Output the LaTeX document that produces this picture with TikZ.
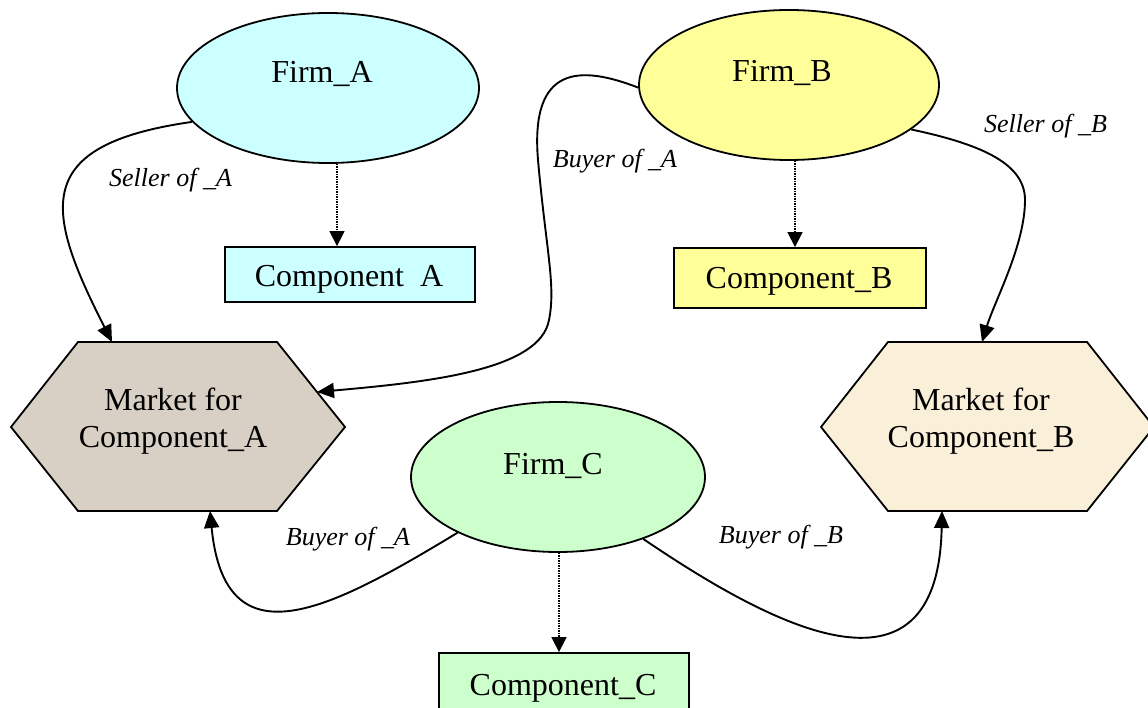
\documentclass[tikz,border=0pt]{standalone}
\usepackage{fontspec}
\setmainfont{Liberation Serif}
\usetikzlibrary{arrows.meta,shapes.geometric,calc}
\definecolor{firmA}{HTML}{CCFFFF}
\definecolor{firmB}{HTML}{FFFF99}
\definecolor{firmC}{HTML}{CCFFCC}
\definecolor{mktA}{RGB}{216,208,196}
\definecolor{mktB}{RGB}{250,240,218}

\begin{document}
\begin{tikzpicture}[x=1pt,y=-1pt,
  firm/.style={ellipse, draw, line width=1.8pt, minimum height=150pt, inner sep=0pt},
  comp/.style={rectangle, draw, line width=1.8pt, inner sep=0pt},
  txt/.style={font=\fontsize{32}{38}\selectfont, anchor=base, inner sep=0pt},
  role/.style={font=\fontsize{26}{30}\selectfont\itshape, anchor=base, inner sep=0pt},
  link/.style={line width=1.9pt, -{Triangle[length=17pt,width=15pt]}},
  owns/.style={line width=1.5pt, densely dotted, -{Triangle[length=15pt,width=15pt]}},
  market/.style={draw, line width=1.8pt, line join=miter}
]
\useasboundingbox (0,0) rectangle (1148,708);
\fill[white] (0,0) rectangle (1148,708);
\clip (0,0) rectangle (1148,708);

% markets (hexagons)
\draw[market, fill=mktA] (11,427) -- (78,342) -- (277,342) -- (345,427) -- (277,511) -- (78,511) -- cycle;
\draw[market, fill=mktB] (821,427) -- (888,342) -- (1087,342) -- (1154,427) -- (1087,511) -- (888,511) -- cycle;
\node[txt] (mAt1) at (173,410) {Market for};
\node[txt] (mAt2) at (173,447) {Component\_A};
\node[txt] (mBt1) at (981,410) {Market for};
\node[txt] (mBt2) at (981,447) {Component\_B};
\coordinate (mAtop)  at (112,342);
\coordinate (mAside) at (317,392);
\coordinate (mAbot)  at (210,511);
\coordinate (mBtop)  at (982,342);
\coordinate (mBbot)  at (942,511);

% firms
\node[firm, fill=firmA, minimum width=302pt] (fA) at (328,88) {};
\node[firm, fill=firmB, minimum width=300pt] (fB) at (789,85) {};
\node[firm, fill=firmC, minimum width=294pt] (fC) at (558,477) {};
\node[txt] (fAt) at (322,83) {Firm\_A};
\node[txt] (fBt) at (782,82) {Firm\_B};
\node[txt] (fCt) at (553,474) {Firm\_C};

% components
\node[comp, fill=firmA, minimum width=250pt, minimum height=55pt] (cA) at (350,274.5) {};
\node[comp, fill=firmB, minimum width=252pt, minimum height=60pt] (cB) at (800,278) {};
\node[comp, fill=firmC, minimum width=250pt, minimum height=62pt] (cC) at (564,684) {};
\node[txt] (cAt) at (349,287) {Component\ \ A};
\node[txt] (cBt) at (799,289) {Component\_B};
\node[txt] (cCt) at (563,695) {Component\_C};

% firm -> own component
\coordinate (oA) at (337,0);
\coordinate (oB) at (795,0);
\coordinate (oC) at (559,0);
\draw[owns] (fA.south -| oA) -- (cA.north -| oA);
\draw[owns] (fB.south -| oB) -- (cB.north -| oB);
\draw[owns] (fC.south -| oC) -- (cC.north -| oC);

% market roles
\draw[link] (fA.194) .. controls (30,145) and (45,210) .. (mAtop);
\draw[link] (fB.181) .. controls (580,65) and (530,65) .. (538,160)
  .. controls (546,250) and (556,285) .. (549,320)
  .. controls (540,370) and (430,382) .. (mAside);
\draw[link] (fB.340) .. controls (985,145) and (1025,165) .. (1025,200)
  .. controls (1025,245) and (995,300) .. (mBtop);
\draw[link] (fC.209) .. controls (330,610) and (225,665) .. (mAbot);
\draw[link] (fC.324) .. controls (770,625) and (938,715) .. (mBbot);

\node[role] (rSA) at (170.5,187) {Seller of \_A};
\node[role] (rBA1) at (615,168) {Buyer of \_A};
\node[role] (rSB) at (1045.5,133) {Seller of \_B};
\node[role] (rBA2) at (348,545) {Buyer of \_A};
\node[role] (rBB) at (781,543) {Buyer of \_B};
\end{tikzpicture}
\end{document}
